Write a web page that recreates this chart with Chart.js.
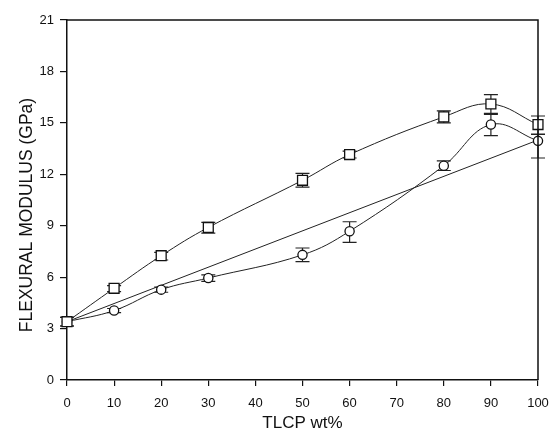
<!DOCTYPE html>
<html>
<head>
<meta charset="utf-8">
<script src="https://cdn.jsdelivr.net/npm/chart.js@4.4.1/dist/chart.umd.min.js"></script>
<style>
html,body{margin:0;padding:0;background:#fff;}
#wrap{width:551px;height:434px;position:relative;}
</style>
</head>
<body>
<div id="wrap"><canvas id="c" width="551" height="434"></canvas></div>
<script>
// ---- data ----
const tlcp = [0, 10, 20, 30, 50, 60, 80, 90, 100];
const squareVals = [3.4, 5.35, 7.25, 8.9, 11.65, 13.15, 15.35, 16.1, 14.9];
const squareErrUp = [0.25, 0.15, 0.2, 0.3, 0.4, 0.2, 0.35, 0.55, 0.5];
const squareErrDown = [0.25, 0.2, 0.25, 0.33, 0.4, 0.2, 0.35, 0.55, 0.58];
const circleVals = [3.4, 4.05, 5.27, 5.95, 7.3, 8.68, 12.5, 14.9, 13.95];
const circleErrUp = [0.25, 0.12, 0.15, 0.18, 0.4, 0.55, 0.28, 0.6, 0.4];
const circleErrDown = [0.25, 0.12, 0.15, 0.2, 0.4, 0.65, 0.28, 0.65, 1.0];
const ruleX = [0, 100];
const ruleVals = [3.4, 14.0];
const xTicks = [0, 10, 20, 30, 40, 50, 60, 70, 80, 90, 100];
const yTicks = [0, 3, 6, 9, 12, 15, 18, 21];
const yTitle = 'FLEXURAL MODULUS (GPa)';
const xTitle = 'TLCP wt%';

const toPts = (xs, ys) => xs.map((x, i) => ({x: x, y: ys[i]}));

const errorBars = {
  id: 'errorBars',
  beforeDatasetsDraw(chart) {
    const ctx = chart.ctx, xs = chart.scales.x, ys = chart.scales.y;
    ctx.save();
    ctx.strokeStyle = '#222';
    ctx.lineWidth = 1.2;
    const sets = [[squareVals, squareErrUp, squareErrDown], [circleVals, circleErrUp, circleErrDown]];
    sets.forEach(([vals, up, down]) => {
      tlcp.forEach((x, i) => {
        const px = xs.getPixelForValue(x);
        const top = ys.getPixelForValue(vals[i] + up[i]);
        const bot = ys.getPixelForValue(vals[i] - down[i]);
        ctx.beginPath();
        ctx.moveTo(px, top); ctx.lineTo(px, bot);
        ctx.moveTo(px - 7, top); ctx.lineTo(px + 7, top);
        ctx.moveTo(px - 7, bot); ctx.lineTo(px + 7, bot);
        ctx.stroke();
      });
    });
    ctx.restore();
  }
};

const frame = {
  id: 'frame',
  afterDraw(chart) {
    const a = chart.chartArea, ctx = chart.ctx;
    ctx.save();
    ctx.strokeStyle = '#111';
    ctx.lineWidth = 1.5;
    ctx.beginPath();
    ctx.moveTo(a.left, a.top); ctx.lineTo(a.right, a.top); ctx.lineTo(a.right, a.bottom);
    ctx.stroke();
    // y axis title
    ctx.fillStyle = '#111';
    ctx.font = '17.5px "Liberation Sans"';
    ctx.textAlign = 'center';
    ctx.textBaseline = 'middle';
    ctx.translate(27, 215);
    ctx.rotate(-Math.PI / 2);
    ctx.fillText(yTitle, 0, 0);
    ctx.restore();
  }
};

new Chart(document.getElementById('c'), {
  type: 'line',
  data: {
    datasets: [
      {
        data: toPts(tlcp, squareVals),
        borderColor: '#222', borderWidth: 1,
        pointStyle: 'rect', pointRadius: 7, pointBorderWidth: 1.3,
        pointBackgroundColor: '#fff', pointBorderColor: '#111',
        tension: 0.4, clip: false, order: 1
      },
      {
        data: toPts(tlcp, circleVals),
        borderColor: '#222', borderWidth: 1,
        pointStyle: 'circle', pointRadius: 4.6, pointBorderWidth: 1.3,
        pointBackgroundColor: '#fff', pointBorderColor: '#111',
        tension: 0.4, clip: false, order: 2
      },
      {
        data: toPts(ruleX, ruleVals),
        borderColor: '#222', borderWidth: 1,
        pointRadius: 0, tension: 0, clip: false, order: 3
      }
    ]
  },
  options: {
    responsive: false,
    animation: false,
    layout: {padding: {left: 0, right: 13, top: 20, bottom: 0}},
    plugins: {legend: {display: false}, tooltip: {enabled: false}},
    scales: {
      x: {
        type: 'linear', min: 0, max: 100,
        afterBuildTicks: s => { s.ticks = xTicks.map(v => ({value: v})); },
        afterFit: s => { s.height = 54; s.paddingRight = 0; s.paddingLeft = 0; },
        grid: {display: true, drawOnChartArea: false, drawTicks: true, tickLength: 6, color: '#111', lineWidth: 1.2},
        border: {display: true, color: '#111', width: 1.5},
        ticks: {color: '#111', font: {family: 'Liberation Sans', size: 13}, padding: 10, maxRotation: 0},
        title: {display: true, text: xTitle, color: '#111', font: {family: 'Liberation Sans', size: 17}, padding: {top: 4, bottom: 0}}
      },
      y: {
        type: 'linear', min: 0, max: 21,
        afterBuildTicks: s => { s.ticks = yTicks.map(v => ({value: v})); },
        afterFit: s => { s.width = 67; s.paddingTop = 0; s.paddingBottom = 0; },
        grid: {display: true, drawOnChartArea: false, drawTicks: true, tickLength: 7, color: '#111', lineWidth: 1.2},
        border: {display: true, color: '#111', width: 1.5},
        ticks: {color: '#111', font: {family: 'Liberation Sans', size: 13}, padding: 6}
      }
    }
  },
  plugins: [errorBars, frame]
});
</script>
</body>
</html>
